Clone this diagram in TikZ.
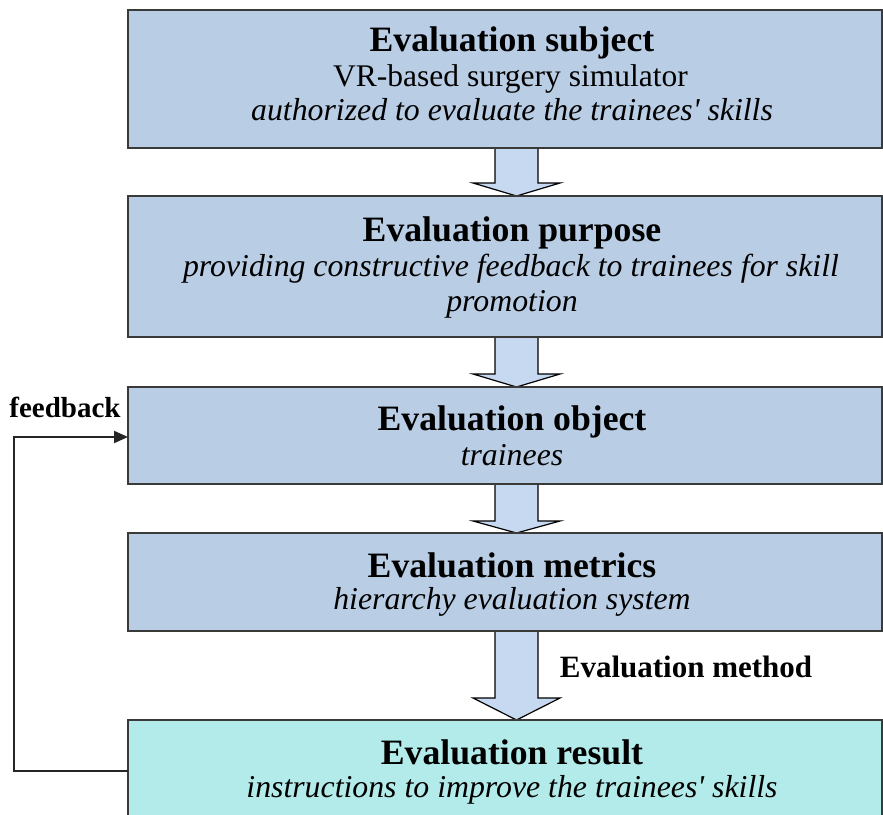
\documentclass[tikz,border=0pt]{standalone}
\usepackage{fontspec}
\setmainfont{Liberation Serif}
\usetikzlibrary{calc,arrows.meta}
\definecolor{boxblue}{HTML}{B9CDE5}
\definecolor{arrowblue}{HTML}{C6D9F1}
\definecolor{resultcyan}{HTML}{B2EBE9}
\definecolor{edge}{HTML}{3A3A3A}
\tikzset{
  box/.style={draw=edge, line width=1.5pt, fill=boxblue, rectangle, inner sep=0pt, outer sep=0pt, anchor=north west, minimum width=754},
  resbox/.style={box, fill=resultcyan},
  titletext/.style={anchor=base, inner sep=0pt, font=\fontsize{35.7}{40}\selectfont\bfseries},
  plaintext/.style={anchor=base, inner sep=0pt, font=\fontsize{31.5}{36}\selectfont},
  ittext/.style={anchor=base, inner sep=0pt, font=\fontsize{31.8}{36}\selectfont\itshape},
  labeltext/.style={anchor=base, inner sep=0pt, font=\fontsize{29}{33}\selectfont\bfseries},
  methodtext/.style={labeltext, font=\fontsize{31}{35}\selectfont\bfseries},
  blockarrow/.style={draw=black, line width=1.2pt, fill=arrowblue, line join=miter},
  fbline/.style={draw=black!85, line width=2pt, -{Triangle[length=14pt,width=12pt]}}
}
\begin{document}
\begin{tikzpicture}[x=1pt,y=-1pt]
\useasboundingbox (0,0) rectangle (883,814);
\clip (0,0) rectangle (883,814);
\fill[white] (0,0) rectangle (883,814);

% block arrows (drawn first, boxes cover their ends)
\draw[blockarrow] (505-10,148) -- (505-10,183) -- (505-32,183) -- (516.5,196) -- (505+55,183) -- (505+33,183) -- (505+33,148);
\draw[blockarrow] (505-10,337) -- (505-10,374) -- (505-32,374) -- (516.5,387) -- (505+55,374) -- (505+33,374) -- (505+33,337);
\draw[blockarrow] (505-10,484) -- (505-10,521) -- (505-32,521) -- (516.5,533) -- (505+55,521) -- (505+33,521) -- (505+33,484);
\draw[blockarrow] (505-10,631) -- (505-10,698) -- (505-32,698) -- (516.5,720) -- (505+55,698) -- (505+33,698) -- (505+33,631);

% boxes
\node[box, minimum height=138] (b1) at (128,10) {};
\node[box, minimum height=141] (b2) at (128,196) {};
\node[box, minimum height=97] (b3) at (128,387) {};
\node[box, minimum height=98] (b4) at (128,533) {};
\node[resbox, minimum height=130] (b5) at (128,720) {};

% texts
\node[titletext] (t1) at (512,51) {Evaluation subject};
\node[plaintext] (t1a) at (510.5,86) {VR-based surgery simulator};
\node[ittext] (t1b) at (512,120) {authorized to evaluate the trainees\textquotesingle\ skills};

\node[titletext] (t2) at (512,241) {Evaluation purpose};
\node[ittext] (t2a) at (511,276) {providing constructive feedback to trainees for skill};
\node[ittext] (t2b) at (512,311) {promotion};

\node[titletext] (t3) at (512,430) {Evaluation object};
\node[ittext] (t3a) at (512,465) {trainees};

\node[titletext] (t4) at (512,577) {Evaluation metrics};
\node[ittext] (t4a) at (512,609) {hierarchy evaluation system};

\node[titletext] (t5) at (512,764) {Evaluation result};
\node[ittext] (t5a) at (512,797) {instructions to improve the trainees\textquotesingle\ skills};

\node[labeltext] (fbl) at (65,417) {feedback};
\node[methodtext] (eml) at (686,677) {Evaluation method};

% feedback loop
\coordinate (fbs) at (128,771);
\coordinate (fbe) at (128,437);
\draw[fbline] (fbs) -- (14,771) |- (fbe);
\end{tikzpicture}
\end{document}
